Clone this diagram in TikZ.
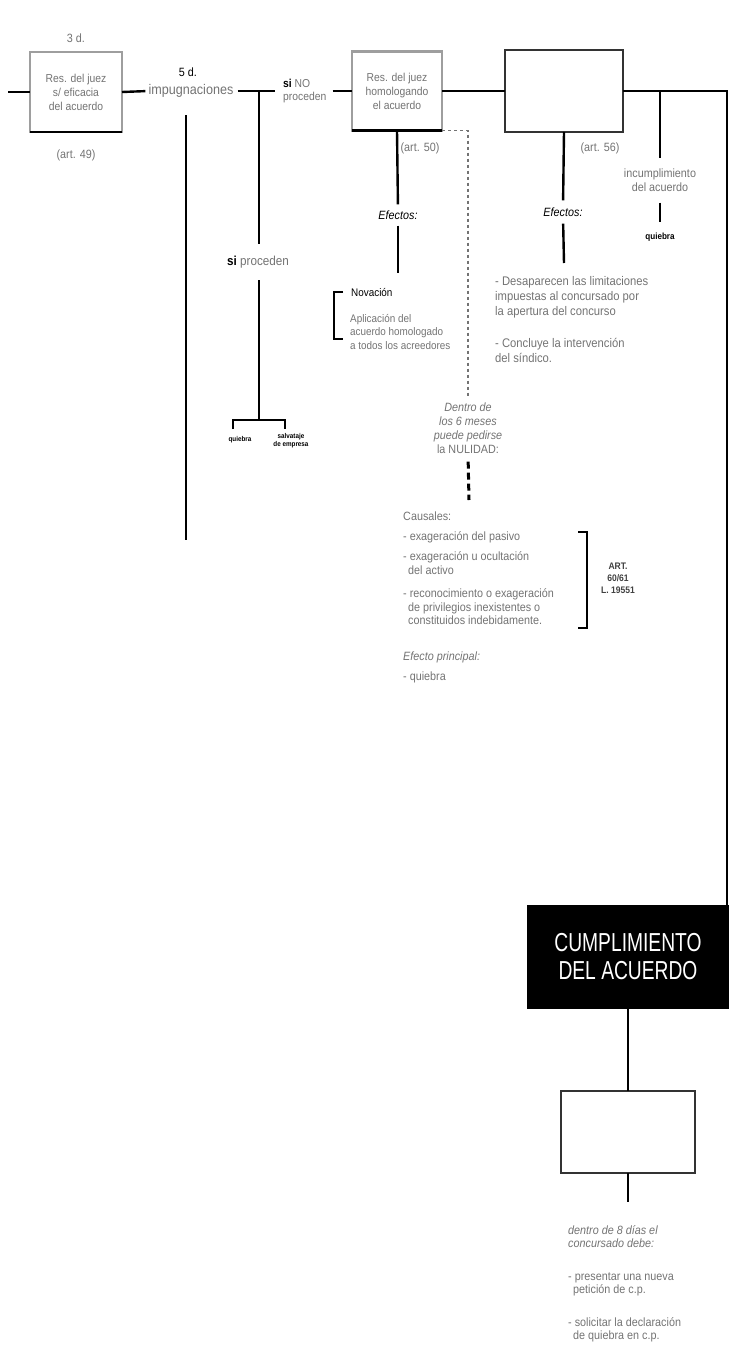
\documentclass[tikz,border=0pt]{standalone}
\usepackage{fontspec}
\setmainfont[FakeStretch=0.9]{Liberation Sans}
\newfontfamily\headfont[FakeStretch=0.74]{Liberation Sans}
\definecolor{notegray}{gray}{0.45}
\definecolor{framegray}{gray}{0.62}
\usetikzlibrary{calc}

\begin{document}
\begin{tikzpicture}[x=1pt,y=-1pt,
  every node/.style={inner sep=0pt},
  main/.style={line width=2.4pt},
  slim/.style={line width=1.3pt},
  note/.style={text=notegray, font=\fontsize{12}{14}\selectfont, align=left},
  effect/.style={font=\itshape\fontsize{12}{14}\selectfont},
  smallbold/.style={font=\bfseries\fontsize{7}{8}\selectfont, align=center},
  resbox/.style={draw=framegray, outer sep=0pt, minimum width=92pt, minimum height=80pt,
    align=center, text=notegray, font=\fontsize{11.5}{14}\selectfont},
  emptybox/.style={draw=black!80, line width=1.2pt, outer sep=0pt},
  bracket/.style={line width=1.6pt},
]
\useasboundingbox (0,0) rectangle (732,1371);

% --- first resolution and the objections ---
\coordinate (in) at (8,92);
\node[resbox, line width=1.2pt] (b1) at (76,92) {Res. del juez\\s/ eficacia\\del acuerdo};
\draw[line width=2.2pt] (b1.south west) -- (b1.south east);
\node[note] (d3) at (76,38) {3 d.};
\node[note] (a49) at (76,155) {(art. 49)};
\node[font=\fontsize{12}{14}\selectfont] (d5) at (188,72) {5 d.};
\node[note, font=\fontsize{14}{16}\selectfont] (imp) at (191,91) {impugnaciones};
\draw[main] (in) -- (b1.west);
\draw[main, shorten >=3pt] (b1.east) -- (imp.west);

\coordinate (vt) at (186,115);
\coordinate (vb) at (186,540);
\draw[main] (vt) -- (vb);

\node[anchor=west, align=left, font=\fontsize{11.5}{13}\selectfont] (sino) at (283,91)
  {\textbf{si} \textcolor{notegray}{NO}\\\textcolor{notegray}{proceden}};
\coordinate (jimp) at (259,91);
\draw[main, shorten <=4pt, shorten >=8pt] (imp.east) -- (sino.west);

\node[font=\fontsize{13}{15}\selectfont] (sip) at (258,262) {\textbf{si} \textcolor{notegray}{proceden}};
\draw[main, shorten >=12pt] (jimp) -- (jimp |- sip.north);
\coordinate (jq) at (259,420);
\draw[main, shorten <=12pt] (jimp |- sip.south) -- (jq);
\coordinate (qL) at (233,420);
\coordinate (qR) at (285,420);
\draw[main] ($(qL)+(0,9)$) -- (qL) -- (qR) -- ($(qR)+(0,9)$);
\node[smallbold] (q1) at (240,440) {quiebra};
\node[smallbold] (salv) at (291,441) {salvataje\\de empresa};

% --- homologation ---
\node[resbox, line width=2.6pt, minimum width=90pt, minimum height=79pt] (b2) at (397,91)
  {Res. del juez\\homologando\\el acuerdo};
\draw[line width=2.6pt] (b2.south west) -- (b2.south east);
\draw[slim, shorten <=6pt] (sino.east) -- (b2.west);
\node[note] (a50) at (420,148) {(art. 50)};
\node[effect] (ef2) at (398,215) {Efectos:};
\draw[main, shorten >=6pt] (b2.south) -- (ef2.north);
\coordinate (nv) at (398,273);
\draw[main, shorten <=6pt] (ef2.south) -- (nv);

\node[anchor=west, font=\fontsize{11}{13}\selectfont] (nov) at (351,292) {Novación};
\node[note, anchor=north west, font=\fontsize{11}{13.5}\selectfont] (apl) at (350,314)
  {Aplicación del\\acuerdo homologado\\a todos los acreedores};
\draw[bracket] ($(nov.west)+(-8,0)$) -- ++(-9,0) -- ++(0,47) -- ++(9,0);

% --- nullity ---
\node[note, align=center, font=\fontsize{12}{14}\selectfont] (nul) at (468,428)
  {\textit{Dentro de}\\\textit{los 6 meses}\\\textit{puede pedirse}\\la NULIDAD:};
\draw[line width=1.1pt, draw=black!55, dash pattern=on 3pt off 3pt, shorten >=5pt]
  (b2.south east) -- (b2.south east -| nul.north) -- (nul.north);
\coordinate (nulend) at (469,500);
\draw[line width=3pt, dash pattern=on 7pt off 4pt, shorten <=8pt] (nul.south) -- (nulend);

\node[note, anchor=north west, font=\fontsize{12}{13.5}\selectfont] (caus) at (403,512)
  {Causales:\\[6pt]
   - exageración del pasivo\\[7pt]
   - exageración u ocultación\\\hspace*{5pt}del activo\\[10pt]
   - reconocimiento o exageración\\\hspace*{5pt}de privilegios inexistentes o\\\hspace*{5pt}constituidos indebidamente.\\[22pt]
   \textit{Efecto principal:}\\[7pt]
   - quiebra};
\coordinate (brT) at (587,532);
\coordinate (brB) at (587,628);
\draw[bracket] ($(brT)+(-9,0)$) -- (brT) -- (brB) -- ($(brB)+(-9,0)$);
\node[smallbold, text=black!75, font=\bfseries\fontsize{9.5}{12}\selectfont] (law) at (618,578) {ART.\\60/61\\L. 19551};

% --- third resolution ---
\node[emptybox, minimum width=118pt, minimum height=82pt] (b3) at (564,91) {};
\draw[slim] (b2.east) -- (b3.west);
\node[note] (a56) at (600,148) {(art. 56)};
\node[effect] (ef3) at (563,212) {Efectos:};
\draw[main, shorten >=7pt] (b3.south) -- (ef3.north);
\coordinate (ev) at (564,263);
\draw[main, shorten <=7pt] (ef3.south) -- (ev);
\node[note, anchor=north west, font=\fontsize{12.5}{15}\selectfont] (desap) at (495,276)
  {- Desaparecen las limitaciones\\impuestas al concursado por\\la apertura del concurso\\[17pt]
   - Concluye la intervención\\del síndico.};

\coordinate (bj) at (660,91);
\node[note, align=center, font=\fontsize{12}{14}\selectfont] (inc) at (660,180) {incumplimiento\\del acuerdo};
\draw[slim, shorten >=10pt] (bj) -- (inc.north);
\node[smallbold, font=\bfseries\fontsize{9}{10}\selectfont] (q3) at (660,237) {quiebra};
\draw[slim, shorten <=11pt, shorten >=11pt] (inc.south) -- (q3.north);

% --- fulfilment ---
\node[fill=black, minimum width=202pt, minimum height=104pt, text=white, align=center,
  font=\headfont\fontsize{26}{28}\selectfont] (cb) at (628,957) {CUMPLIMIENTO\\DEL ACUERDO};
\coordinate (rc) at (727,91);
\draw[main] (b3.east) -- (rc) -- (rc |- cb.north);

\node[emptybox, minimum width=134pt, minimum height=82pt] (b4) at (628,1132) {};
\draw[main] (cb.south) -- (b4.north);
\coordinate (b4end) at (628,1202);
\draw[main] (b4.south) -- (b4end);
\node[note, anchor=north west, font=\fontsize{12}{13.5}\selectfont] (fin) at (568,1225)
  {\textit{dentro de 8 días el}\\\textit{concursado debe:}\\[19pt]
   - presentar una nueva\\\hspace*{5pt}petición de c.p.\\[19pt]
   - solicitar la declaración\\\hspace*{5pt}de quiebra en c.p.};
\end{tikzpicture}
\end{document}
